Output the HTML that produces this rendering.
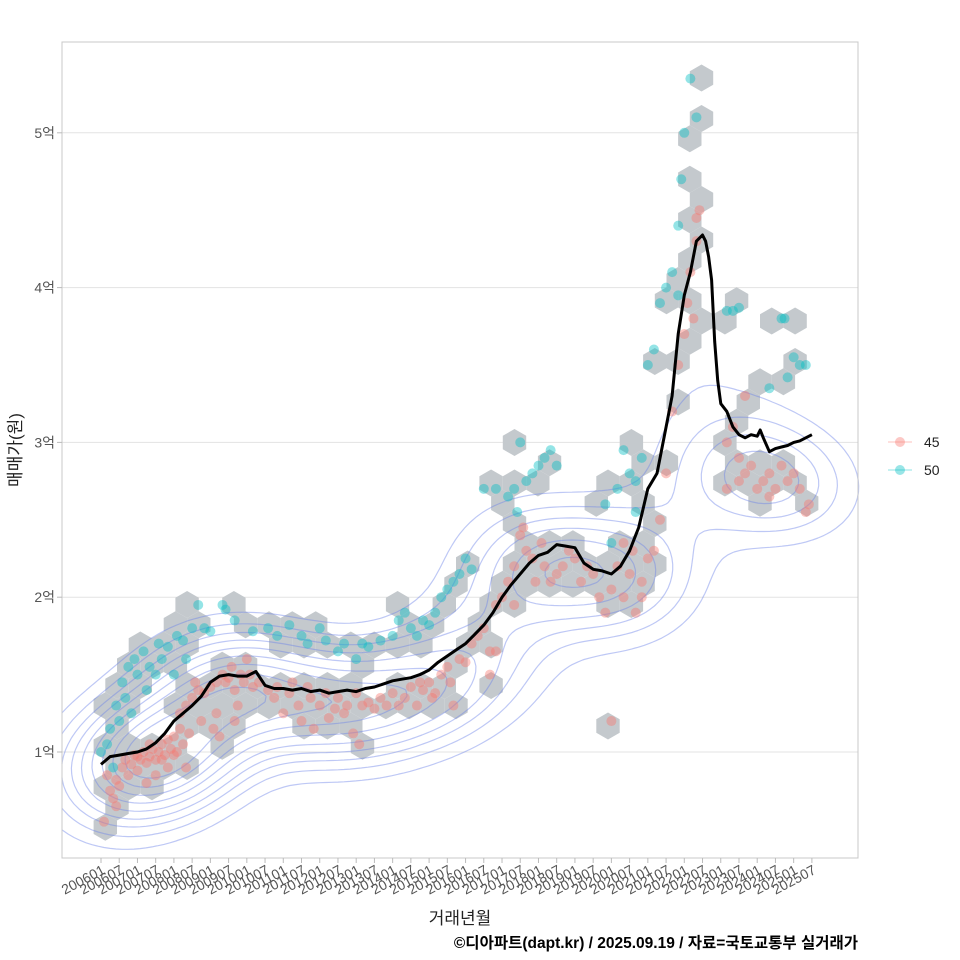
<!DOCTYPE html>
<html><head><meta charset="utf-8">
<style>
html,body{margin:0;padding:0;background:#fff;}
svg{display:block;font-family:"Liberation Sans","Noto Sans CJK KR",sans-serif;}
</style></head>
<body>
<svg id="chart" width="960" height="960" viewBox="0 0 960 960">
<rect x="0" y="0" width="960" height="960" fill="#fff"/>
<g id="grid"></g>
<g id="hex"></g>
<g id="contour"></g>
<g id="pts"></g>
<g id="line"></g>
<rect x="62" y="42" width="796" height="816" fill="none" stroke="#c8c8c8" stroke-width="1"/>
<g id="axes"></g>
<text x="0" y="0" transform="translate(21,450) rotate(-90)" text-anchor="middle" font-size="17" fill="#222">매매가(원)</text>
<text x="460" y="924" text-anchor="middle" font-size="17" fill="#222">거래년월</text>
<text x="858" y="948" text-anchor="end" font-size="15.5" font-weight="bold" fill="#000">©디아파트(dapt.kr) / 2025.09.19 / 자료=국토교통부 실거래가</text>
<g>
  <g>
    <line x1="888" y1="442" x2="912" y2="442" stroke="#F8766D" stroke-opacity="0.3" stroke-width="1.5"/>
    <circle cx="900" cy="442" r="5" fill="#F8766D" fill-opacity="0.4"/>
    <text x="924" y="447" font-size="14" fill="#222">45</text>
  </g>
  <g>
    <line x1="888" y1="470" x2="912" y2="470" stroke="#00BFC4" stroke-opacity="0.3" stroke-width="1.5"/>
    <circle cx="900" cy="470" r="5" fill="#00BFC4" fill-opacity="0.4"/>
    <text x="924" y="475" font-size="14" fill="#222">50</text>
  </g>
</g>
</svg>
<script>
// ---- data (t = months since 2006-01, v = price in 억) ----
const yTicks = [1,2,3,4,5];
const yTickLabels = ["1억","2억","3억","4억","5억"];
const xTickLabels = [];
for (let y=2006;y<=2025;y++){ xTickLabels.push(y+"01"); xTickLabels.push(y+"07"); }
const trendT = [0,3,6,9,12,15,18,21,24,27,30,33,36,39,42,45,48,51,54,57,60,63,66,69,72,75,78,81,84,87,90,93,96,99,102,105,108,111,114,117,120,123,126,129,132,135,138,141,144,147,150,153,156,159,162,165,168,171,174,177,180,183,186,188,190,192,194,196,198,199,200,201,202,203,204,206,208,210,212,214,216,217,218,220,222,224,226,228,230,232,234];
const trendV = [0.92,0.97,0.98,0.99,1.0,1.02,1.06,1.12,1.2,1.25,1.3,1.36,1.45,1.49,1.5,1.49,1.49,1.52,1.43,1.41,1.41,1.4,1.41,1.39,1.4,1.38,1.39,1.4,1.39,1.41,1.42,1.44,1.46,1.47,1.48,1.5,1.53,1.58,1.62,1.66,1.7,1.76,1.82,1.9,2.0,2.08,2.15,2.22,2.27,2.29,2.34,2.33,2.32,2.22,2.18,2.17,2.15,2.2,2.3,2.45,2.7,2.8,3.1,3.3,3.7,3.95,4.1,4.3,4.34,4.3,4.2,4.05,3.65,3.4,3.25,3.2,3.1,3.05,3.03,3.05,3.04,3.08,3.03,2.94,2.96,2.97,2.98,3.0,3.01,3.03,3.05];
const red45 = [[2,0.85],[3,0.75],[4,0.7],[5,0.82],[6,0.78],[7,0.9],[8,0.95],[9,0.85],[10,0.92],[11,0.98],[12,0.88],[13,0.95],[14,1.0],[15,0.93],[16,0.97],[17,1.02],[18,0.95],[19,1.0],[20,1.05],[21,0.98],[22,1.08],[23,1.02],[24,1.1],[25,1.0],[26,1.15],[27,1.05],[28,0.9],[29,1.12],[1,0.55],[5,0.65],[15,0.8],[18,0.85],[22,0.9],[12,0.97],[16,1.05],[20,0.95],[24,0.98],
[26,1.25],[28,1.3],[30,1.35],[31,1.45],[32,1.4],[33,1.2],[34,1.38],[36,1.42],[38,1.25],[40,1.5],[41,1.45],[42,1.48],[43,1.55],[44,1.4],[45,1.3],[46,1.5],[47,1.45],[48,1.6],[49,1.5],[50,1.42],[52,1.45],[37,1.15],[39,1.1],[44,1.2],[38,1.45],
[55,1.4],[57,1.35],[58,1.42],[60,1.25],[62,1.38],[63,1.45],[65,1.3],[66,1.2],[68,1.42],[69,1.35],[70,1.15],[72,1.3],[74,1.38],[75,1.22],[77,1.28],[78,1.35],[80,1.25],[81,1.3],[83,1.12],[84,1.38],[85,1.05],[86,1.3],[88,1.32],[90,1.28],[92,1.35],[94,1.3],[96,1.38],[98,1.3],[100,1.35],[102,1.42],[104,1.3],[106,1.4],[108,1.45],[110,1.38],[112,1.5],[114,1.55],[115,1.45],[116,1.3],[105,1.45],[109,1.35],
[118,1.6],[120,1.58],[122,1.7],[124,1.75],[126,1.8],[128,1.65],[130,1.95],[132,2.0],[134,2.1],[136,2.2],[138,2.4],[140,2.3],[142,2.25],[143,2.1],[145,2.35],[146,2.2],[148,2.1],[150,2.15],[152,2.2],[154,2.3],[156,2.25],[158,2.1],[160,2.2],[162,2.15],[136,1.95],[130,1.65],[128,1.5],[139,2.45],
[164,2.0],[166,1.9],[168,2.05],[170,2.2],[172,2.0],[174,2.15],[175,2.3],[176,1.9],[178,2.1],[180,2.25],[182,2.3],[184,2.5],[186,2.8],[188,3.2],[168,1.2],[172,2.35],[178,2.0],
[190,3.5],[192,3.7],[194,4.1],[196,4.45],[197,4.5],[196,4.3],[195,3.8],[193,3.9],
[206,3.0],[208,3.1],[210,2.9],[212,2.8],[214,2.85],[216,2.7],[218,2.75],[220,2.8],[222,2.7],[224,2.85],[226,2.75],[228,2.8],[230,2.7],[232,2.55],[233,2.6],[206,2.7],[210,2.75],[212,3.3],[220,2.65]];
const teal50 = [[2,1.05],[3,1.15],[5,1.3],[6,1.2],[7,1.45],[8,1.35],[9,1.55],[10,1.25],[11,1.6],[12,1.5],[14,1.65],[15,1.4],[16,1.55],[18,1.5],[19,1.7],[20,1.6],[22,1.68],[24,1.5],[25,1.75],[27,1.72],[28,1.6],[30,1.8],[32,1.95],[34,1.8],[36,1.78],[40,1.95],[41,1.92],[44,1.85],[0,1.0],[4,0.9],
[50,1.78],[55,1.8],[58,1.75],[62,1.82],[66,1.75],[68,1.7],[72,1.8],[74,1.72],[78,1.65],[80,1.7],[84,1.6],[86,1.7],[88,1.68],[92,1.72],[96,1.75],[98,1.85],[100,1.9],[102,1.8],[104,1.75],[106,1.85],[108,1.82],[110,1.9],[112,2.0],[114,2.05],[116,2.1],[118,2.15],[120,2.25],[122,2.18],
[126,2.7],[130,2.7],[134,2.65],[136,2.7],[137,2.55],[138,3.0],[140,2.75],[142,2.8],[144,2.85],[146,2.9],[148,2.95],[150,2.85],[166,2.6],[170,2.7],[172,2.95],[174,2.8],[176,2.75],[178,2.9],[168,2.35],[176,2.55],
[180,3.5],[182,3.6],[184,3.9],[186,4.0],[188,4.1],[190,4.4],[191,4.7],[192,5.0],[196,5.1],[194,5.35],[190,3.95],
[206,3.85],[208,3.85],[210,3.87],[220,3.35],[224,3.8],[225,3.8],[226,3.42],[228,3.55],[230,3.5],[232,3.5]];

// ---- scales ----
const X0=101, XS=3.038, Y1=752, YS=154.8;
function xs(t){return X0+t*XS;}
function ys(v){return Y1-(v-1)*YS;}
const NS="http://www.w3.org/2000/svg";
function mk(tag,attrs,parent){const e=document.createElementNS(NS,tag);for(const k in attrs)e.setAttribute(k,attrs[k]);parent.appendChild(e);return e;}

// grid + axes
const grid=document.getElementById('grid'), axes=document.getElementById('axes');
yTicks.forEach((v,i)=>{
  const gl=mk('line',{x1:62,x2:858,y1:ys(v),y2:ys(v),stroke:'#e3e3e3','stroke-width':1},grid);
  
  
  const tk=mk('line',{x1:57,x2:62,y1:ys(v),y2:ys(v),stroke:'#bbb','stroke-width':1},axes);
  
  
  const tx=mk('text',{x:55,y:ys(v)+5,'text-anchor':'end','font-size':14,fill:'#555'},axes);
  tx.textContent=yTickLabels[i];
  
  
});
xTickLabels.forEach((lab,i)=>{
  const x=xs(i*6);
  const tk=mk('line',{x1:x,x2:x,y1:858,y2:863,stroke:'#bbb','stroke-width':1},axes);
  
  
  const tx=mk('text',{x:0,y:0,'text-anchor':'end','font-size':14,fill:'#555',transform:`translate(${x+5},${873}) rotate(-28)`},axes);
  tx.textContent=lab;
  
  
});

// hexbin computed from points
const HR=13.5, HDX=HR*Math.sqrt(3), HDY=HR*1.5, HOX=608, HOY=726;
const bins={};
red45.concat(teal50).forEach(p=>{
  const px=xs(p[0]), py=ys(p[1]);
  let best=null,bd=1e9;
  const r0=Math.round((py-HOY)/HDY);
  for(let r=r0-1;r<=r0+1;r++){
    const off=(((r%2)+2)%2)?HDX/2:0;
    const c0=Math.round((px-HOX-off)/HDX);
    for(let c=c0-1;c<=c0+1;c++){
      const cx=HOX+off+c*HDX, cy=HOY+r*HDY, d=(cx-px)**2+(cy-py)**2;
      if(d<bd){bd=d;best=[cx,cy];}
    }
  }
  bins[best[0].toFixed(1)+','+best[1].toFixed(1)]=best;
});
const hexG=document.getElementById('hex');
Object.values(bins).forEach(b=>{
  let pts=[];
  for(let k=0;k<6;k++){const a=Math.PI/180*(60*k-90);pts.push((b[0]+HR*Math.cos(a)).toFixed(1)+','+(b[1]+HR*Math.sin(a)).toFixed(1));}
  const h=mk('polygon',{points:pts.join(' '),fill:'#c4c9cd'},hexG);
  
  
});

// density contours (KDE of the 45 series + marching squares)
(function(){
  const all=red45.map(p=>[xs(p[0]),ys(p[1])]);
  const CS=6, gx0=62, gy0=42, NX=Math.ceil(796/CS)+1, NY=Math.ceil(816/CS)+1;
  const sx=52, sy=38;
  const G=[];let mx=0;
  for(let j=0;j<NY;j++){G.push([]);for(let i=0;i<NX;i++){
    const x=gx0+i*CS,y=gy0+j*CS;let s=0;
    for(const p of all){const dx=(x-p[0])/sx,dy=(y-p[1])/sy;const q=dx*dx+dy*dy;if(q<16)s+=Math.exp(-0.5*q);}
    G[j].push(s);if(s>mx)mx=s;}}
  const cg=document.getElementById('contour');
  const levels=[0.12,0.2,0.28,0.36,0.45,0.55,0.65,0.75,0.85];
  levels.forEach(f=>{
    const L=f*mx;let d='';
    for(let j=0;j<NY-1;j++)for(let i=0;i<NX-1;i++){
      const a=G[j][i],b=G[j][i+1],c=G[j+1][i+1],e=G[j+1][i];
      const x=gx0+i*CS,y=gy0+j*CS;
      const pts=[];
      if((a>=L)!=(b>=L))pts.push([x+CS*(L-a)/(b-a),y]);
      if((b>=L)!=(c>=L))pts.push([x+CS,y+CS*(L-b)/(c-b)]);
      if((e>=L)!=(c>=L))pts.push([x+CS*(L-e)/(c-e),y+CS]);
      if((a>=L)!=(e>=L))pts.push([x,y+CS*(L-a)/(e-a)]);
      for(let k=0;k+1<pts.length;k+=2)d+=`M${pts[k][0].toFixed(1)},${pts[k][1].toFixed(1)}L${pts[k+1][0].toFixed(1)},${pts[k+1][1].toFixed(1)}`;
    }
    const p=mk('path',{d:d,fill:'none',stroke:'#6f86e8','stroke-opacity':0.45,'stroke-width':1.2},cg);
    
    
  });
})();

// points
const ptsG=document.getElementById('pts');
red45.forEach(p=>{
  const c=mk('circle',{cx:xs(p[0]),cy:ys(p[1]),r:5,fill:'#F8766D','fill-opacity':0.42},ptsG);
  
  
});
teal50.forEach(p=>{
  const c=mk('circle',{cx:xs(p[0]),cy:ys(p[1]),r:5,fill:'#00BFC4','fill-opacity':0.42},ptsG);
  
  
});

// trend line
const d=trendT.map((t,i)=>(i?'L':'M')+xs(t).toFixed(1)+','+ys(trendV[i]).toFixed(1)).join('');
const ln=mk('path',{d:d,fill:'none',stroke:'#000','stroke-width':3,'stroke-linejoin':'round'},document.getElementById('line'));


</script>
</body></html>
